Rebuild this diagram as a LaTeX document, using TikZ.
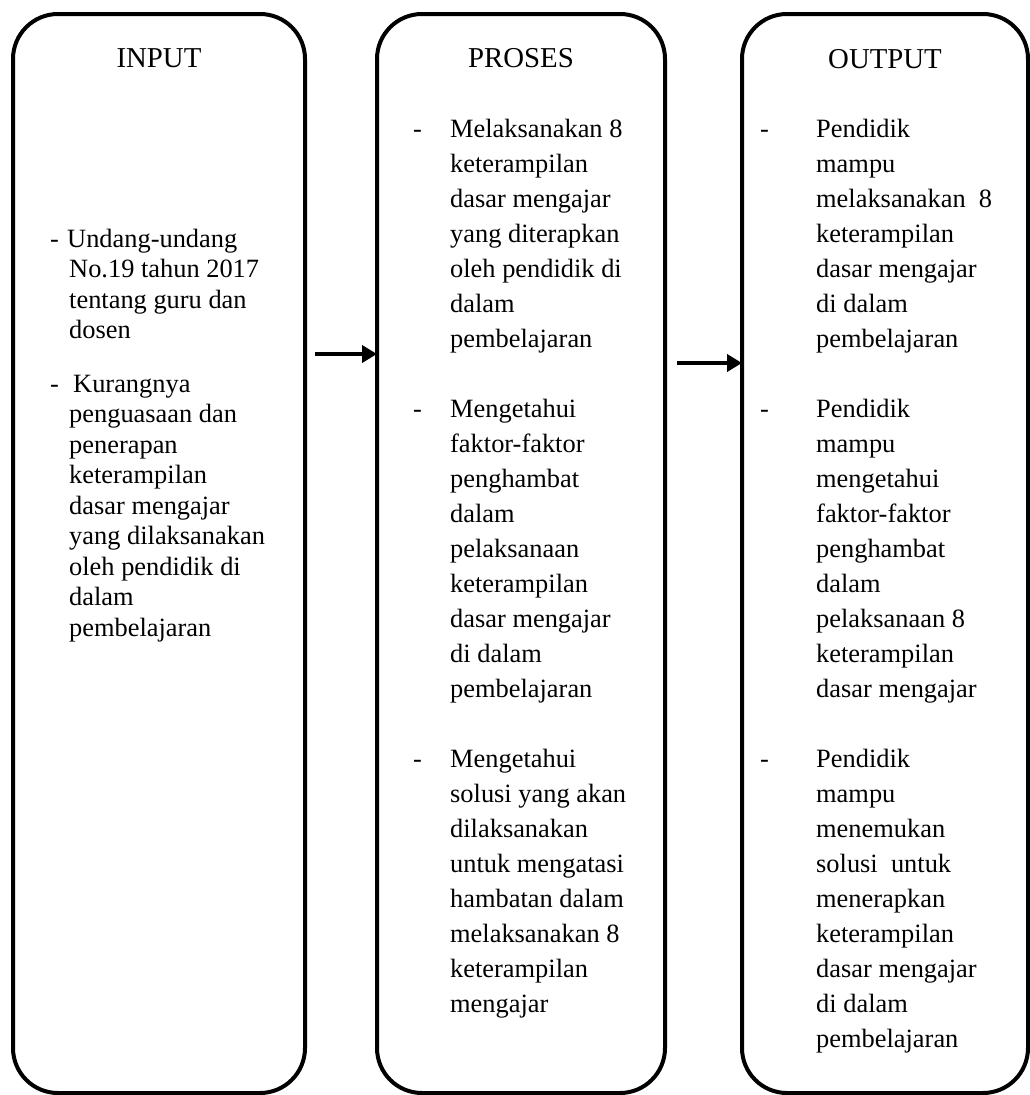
\documentclass[tikz,border=0pt]{standalone}
\usepackage{fontspec}
\setmainfont{Liberation Serif}
\usetikzlibrary{arrows.meta}
% #1 name, #2 x of dash, #3 x of first line, #4 x of other lines,
% #5 baseline of first line, #6 line spacing, #7 first line, #8 other lines
\newcommand\mkitem[8]{%
  \node[txt] (#1d) at (#2,#5) {-};
  \node[txt] (#1f) at (#3,#5) {#7};
  \foreach \t [count=\k from 1] in {#8}
    \node[txt] (#1-\k) at (#4,{#5+\k*#6}) {\t};
}
\begin{document}
\begin{tikzpicture}[x=1pt,y=-1pt,
  box/.style={draw,line width=4pt,rounded corners=45pt,inner sep=0pt,outer sep=0pt,minimum height=1079pt},
  txt/.style={anchor=base west,inner sep=0pt,font=\fontsize{26.4}{35}\selectfont},
  ttl/.style={anchor=base,inner sep=0pt,font=\fontsize{28.8}{34}\selectfont},
  arr/.style={-{Triangle[length=15pt,width=17pt]},line width=4pt}]
\useasboundingbox (0,0) rectangle (1030,1095);
% boxes
\node[box,minimum width=292pt] (b1) at (159,553.5) {};
\node[box,minimum width=288pt] (b2) at (521,553.5) {};
\node[box,minimum width=286pt] (b3) at (885,553.5) {};
% titles
\node[ttl] (t1) at (159,67) {INPUT};
\node[ttl] (t2) at (521,67) {PROSES};
\node[ttl] (t3) at (885,68) {OUTPUT};
% INPUT
\mkitem{ia}{50}{67}{69}{247}{30.5}{Undang-undang}{No.19 tahun 2017,tentang guru dan,dosen}
\mkitem{ib}{50}{73}{69}{392}{30.5}{Kurangnya}{penguasaan dan,penerapan,keterampilan,dasar mengajar,yang dilaksanakan,oleh pendidik di,dalam,pembelajaran}
% PROSES
\mkitem{pa}{413}{450}{450}{137}{35}{Melaksanakan 8}{keterampilan,dasar mengajar,yang diterapkan,oleh pendidik di,dalam,pembelajaran}
\mkitem{pb}{413}{450}{450}{417}{35}{Mengetahui}{faktor-faktor,penghambat,dalam,pelaksanaan,keterampilan,dasar mengajar,di dalam,pembelajaran}
\mkitem{pc}{413}{450}{450}{767}{35}{Mengetahui}{solusi yang akan,dilaksanakan,untuk mengatasi,hambatan dalam,melaksanakan 8,keterampilan,mengajar}
% OUTPUT
\mkitem{oa}{760}{816}{816}{137}{35}{Pendidik}{mampu,melaksanakan\ \ 8,keterampilan,dasar mengajar,di dalam,pembelajaran}
\mkitem{ob}{760}{816}{816}{417}{35}{Pendidik}{mampu,mengetahui,faktor-faktor,penghambat,dalam,pelaksanaan 8,keterampilan,dasar mengajar}
\mkitem{oc}{760}{816}{816}{767}{35}{Pendidik}{mampu,menemukan,solusi\ \ untuk,menerapkan,keterampilan,dasar mengajar,di dalam,pembelajaran}
% arrows
\coordinate (a1) at (315,354);
\draw[arr] (a1) -- (a1 -| b2.west);
\coordinate (a2) at (677,363);
\draw[arr] (a2) -- (a2 -| b3.west);
\end{tikzpicture}
\end{document}
